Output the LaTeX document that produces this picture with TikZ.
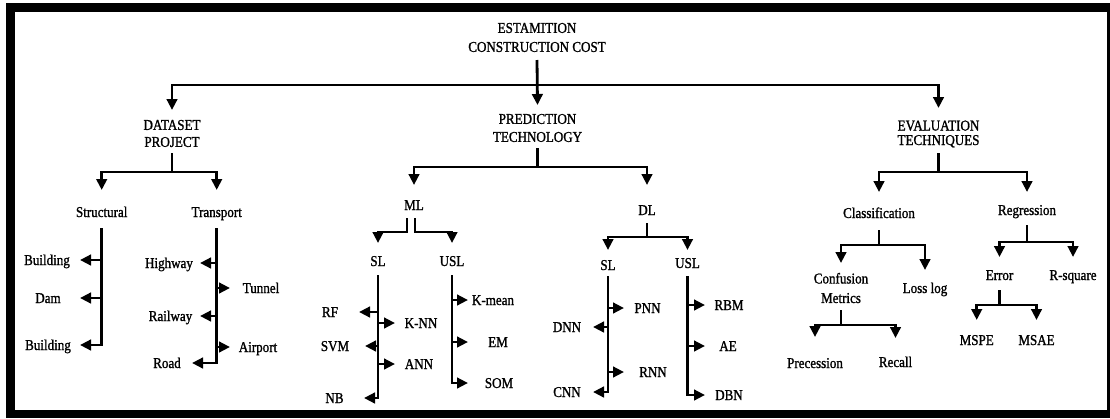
\documentclass[tikz,border=0pt]{standalone}
\usepackage{fontspec}
\setmainfont{Liberation Serif}
\newfontfamily\lblfont{Liberation Serif}[FakeBold=1.2,FakeStretch=0.87]
\usetikzlibrary{arrows.meta,calc}
\begin{document}
\begin{tikzpicture}[x=1pt,y=-1pt,
  lbl/.style={font=\lblfont\fontsize{15}{17}\selectfont, inner sep=0pt, text height=10pt, text depth=0pt},
  mlbl/.style={font=\lblfont\fontsize{15}{#1}\selectfont, inner sep=0pt, align=center},
  ln/.style={line width=2.8pt},
  arr/.style={ln, -{Triangle[length=11pt,width=10.5pt]}}]
\useasboundingbox (0,0) rectangle (1110,418);
\fill[white] (0,0) rectangle (1110,418);
\fill[black] (6,3) rectangle (1110,418);
\fill[white] (15,12) rectangle (1107,410);

% top levels
\node[mlbl=19] (root) at (537,37.5) {ESTAMITION\\CONSTRUCTION COST};
\node[mlbl=17] (ds) at (172,133.5) {DATASET\\PROJECT};
\node[mlbl=18] (pt) at (537.5,128) {PREDICTION\\TECHNOLOGY};
\node[mlbl=14.5] (ev) at (938.5,134) {EVALUATION\\TECHNIQUES};

% dataset branch
\node[lbl] (st) at (101.7,212) {Structural};
\node[lbl] (tr) at (216.7,212) {Transport};
\node[lbl] (b1) at (47,260) {Building};
\node[lbl] (dam) at (48,298) {Dam};
\node[lbl] (b2) at (48,345) {Building};
\node[lbl] (hw) at (169,263) {Highway};
\node[lbl] (rw) at (170.5,316) {Railway};
\node[lbl] (rd) at (167,363) {Road};
\node[lbl] (tn) at (261,288) {Tunnel};
\node[lbl] (ap) at (258,347) {Airport};

% prediction branch
\node[lbl] (ml) at (414,205) {ML};
\node[lbl] (dl) at (647,210) {DL};
\node[lbl] (msl) at (378,261) {SL};
\node[lbl] (musl) at (452,261) {USL};
\node[lbl] (rf) at (330,312) {RF};
\node[lbl] (svm) at (335,346) {SVM};
\node[lbl] (nb) at (334.5,398) {NB};
\node[lbl] (knn) at (421,323) {K-NN};
\node[lbl] (ann) at (419,364) {ANN};
\node[lbl] (km) at (493,300) {K-mean};
\node[lbl] (em) at (498,342) {EM};
\node[lbl] (som) at (499,383) {SOM};
\node[lbl] (dsl) at (608,265) {SL};
\node[lbl] (dusl) at (687.5,263) {USL};
\node[lbl] (pnn) at (647.5,308) {PNN};
\node[lbl] (rnn) at (653,372) {RNN};
\node[lbl] (dnn) at (567,327) {DNN};
\node[lbl] (cnn) at (567,392) {CNN};
\node[lbl] (rbm) at (729,305) {RBM};
\node[lbl] (ae) at (728,346) {AE};
\node[lbl] (dbn) at (729,395) {DBN};

% evaluation branch
\node[lbl] (cls) at (879,213) {Classification};
\node[lbl] (reg) at (1027,210) {Regression};
\node[mlbl=19.5] (cm) at (841,288) {Confusion\\Metrics};
\node[lbl] (ll) at (925,288) {Loss log};
\node[lbl] (pre) at (815,363) {Precession};
\node[lbl] (rec) at (895.5,362) {Recall};
\node[lbl] (err) at (999.5,275) {Error};
\node[lbl] (rsq) at (1073,275) {R-square};
\node[lbl] (mspe) at (976.7,340) {MSPE};
\node[lbl] (msae) at (1036.5,340) {MSAE};

% root connectors
\draw[arr] (root |- 0,60) -- (pt |- 0,105);
\draw[arr] (root |- 0,85) -| (ds |- 0,110);
\draw[arr] (root |- 0,85) -| (ev |- 0,108);

% dataset connectors
\draw[arr] (ds |- 0,153) -- (ds |- 0,172) -| (st |- 0,190);
\draw[arr] (ds |- 0,172) -| (tr |- 0,190);
\draw[arr] (st |- 0,228) |- (b2 -| 80,0);
\draw[arr] (st |- b1) -- (b1 -| 80,0);
\draw[arr] (st |- dam) -- (dam -| 80,0);
\draw[arr] (tr |- 0,228) |- (rd -| 192,0);
\draw[arr] (tr |- hw) -- (hw -| 200,0);
\draw[arr] (tr |- rw) -- (rw -| 200,0);
\draw[arr] (tr |- tn) -- (tn -| 230,0);
\draw[arr] (tr |- ap) -- (ap -| 230,0);

% prediction connectors
\draw[arr] (pt |- 0,148) -- (pt |- 0,167) -| (ml |- 0,185);
\draw[arr] (pt |- 0,167) -| (dl |- 0,185);
\draw[arr] ($(ml)+(-7,13)$) -- ++(0,14) -| (msl |- 0,243);
\draw[arr] ($(ml)+(1,13)$) -- ++(0,14) -| (musl |- 0,243);
\draw[arr] (msl |- 0,275) |- (nb -| 364,0);
\draw[arr] (msl |- rf) -- (rf -| 359,0);
\draw[arr] (msl |- svm) -- (svm -| 365,0);
\draw[arr] (msl |- knn) -- (knn -| 395,0);
\draw[arr] (msl |- ann) -- (ann -| 395,0);
\draw[arr] (musl |- 0,275) |- (som -| 468,0);
\draw[arr] (musl |- km) -- (km -| 468,0);
\draw[arr] (musl |- em) -- (em -| 468,0);
\draw[arr] (dl |- 0,223) -- (dl |- 0,237) -| (dsl |- 0,250);
\draw[arr] (dl |- 0,237) -| (dusl |- 0,250);
\draw[arr] (dsl |- 0,276) |- (cnn -| 593,0);
\draw[arr] (dsl |- dnn) -- (dnn -| 593,0);
\draw[arr] (dsl |- pnn) -- (pnn -| 624,0);
\draw[arr] (dsl |- rnn) -- (rnn -| 624,0);
\draw[arr] (dusl |- 0,276) |- (dbn -| 705,0);
\draw[arr] (dusl |- rbm) -- (rbm -| 705,0);
\draw[arr] (dusl |- ae) -- (ae -| 705,0);

% evaluation connectors
\draw[arr] (ev |- 0,153) -- (ev |- 0,172) -| (cls |- 0,192);
\draw[arr] (ev |- 0,172) -| (reg |- 0,192);
\draw[arr] (cls |- 0,230) -- (cls |- 0,245) -| (cm |- 0,263);
\draw[arr] (cls |- 0,245) -| (ll |- 0,270);
\draw[arr] (cm |- 0,310) -- (cm |- 0,325) -| (pre |- 0,337);
\draw[arr] (cm |- 0,325) -| (rec |- 0,338);
\draw[arr] (reg |- 0,225) -- (reg |- 0,242) -| (err |- 0,257);
\draw[arr] (reg |- 0,242) -| (rsq |- 0,257);
\draw[arr] (err |- 0,290) -- (err |- 0,305) -| (mspe |- 0,320);
\draw[arr] (err |- 0,305) -| (msae |- 0,320);
\end{tikzpicture}
\end{document}
